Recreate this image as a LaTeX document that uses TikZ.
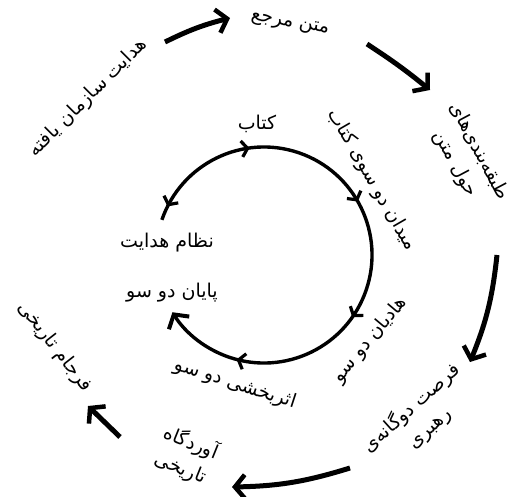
\documentclass[tikz,border=0pt]{standalone}
\usepackage{fontspec}
\newfontfamily\arabicfont[Script=Arabic]{DejaVu Sans}
\TeXXeTstate=1
\usetikzlibrary{arrows.meta,decorations.markings}
\newcommand{\fa}[1]{\beginR #1\endR}
\begin{document}
\begin{tikzpicture}[x=1pt,y=1pt,
  lbl/.style={font=\arabicfont\fontsize{19}{27}\selectfont, inner sep=1pt, align=center},
  bigtip/.style={-{Straight Barb[length=10pt,width=24pt,line width=4.5pt]}},
  outerarrow/.style={line width=5pt, bigtip},
  innerline/.style={line width=3.4pt}
]
\useasboundingbox (0,0) rectangle (519,-496);

% outer labels
\node[lbl, rotate=-10] (matn) at (290,-24) {\fa{متن مرجع}};
\node[lbl, rotate=-62] (tabaghe) at (467,-158) {\fa{طبقه‌بندی‌های}\\ \fa{حول متن}};
\node[lbl, rotate=42] (forsat) at (420,-418) {\fa{فرصت دوگانه‌ی}\\ \fa{رهبری}};
\node[lbl, rotate=-22] (avard) at (186,-455) {\fa{آوردگاه}\\ \fa{تاریخی}};
\node[lbl, rotate=-52] (farjam) at (55,-347) {\fa{فرجام تاریخی}};
\node[lbl, rotate=45] (hedayat) at (88,-98) {\fa{هدایت سازمان یافته}};

% outer arrows
\coordinate (a1s) at (165,-42);  \coordinate (a1e) at (230,-18);
\coordinate (a2s) at (367,-44);  \coordinate (a2e) at (430,-90);
\coordinate (a3s) at (497,-255); \coordinate (a3e) at (470,-362);
\coordinate (a4s) at (350,-468); \coordinate (a4e) at (232,-487);
\coordinate (a5s) at (120,-437); \coordinate (a5e) at (88,-406);
\draw[outerarrow] (a1s) to[bend left=6] (a1e);
\draw[outerarrow] (a2s) to[bend left=3] (a2e);
\draw[outerarrow] (a3s) to[bend left=8] (a3e);
\draw[outerarrow] (a4s) to[bend left=8] (a4e);
\draw[outerarrow] (a5s) -- (a5e);

% inner labels
\node[lbl] (ketab) at (257,-124) {\fa{کتاب}};
\node[lbl, rotate=-60] (meydan) at (372,-180) {\fa{میدان دو سوی کتاب}};
\node[lbl, rotate=50] (hadian) at (370,-340) {\fa{هادیان دو سو}};
\node[lbl, rotate=-18] (asar) at (235,-384) {\fa{اثربخشی دو سو}};
\node[lbl] (payan) at (172,-293) {\fa{پایان دو سو}};
\node[lbl] (nezam) at (167,-243) {\fa{نظام هدایت}};

% inner circle arc
\coordinate (c) at (264,-255);
\draw[innerline, -{Straight Barb[length=10pt,width=24pt,line width=4pt]},
  postaction={decorate, decoration={markings,
    mark=at position 0.025 with {\arrowreversed{Straight Barb[length=6pt,width=16pt,line width=3.2pt]}},
    mark=at position 0.205 with {\arrow{Straight Barb[length=6pt,width=16pt,line width=3.2pt]}},
    mark=at position 0.425 with {\arrow{Straight Barb[length=6pt,width=16pt,line width=3.2pt]}},
    mark=at position 0.635 with {\arrow{Straight Barb[length=6pt,width=16pt,line width=3.2pt]}},
    mark=at position 0.86 with {\arrow{Straight Barb[length=6pt,width=16pt,line width=3.2pt]}}}}]
  ([shift={(161:108)}]c) arc[start angle=161, end angle=-148, radius=108];
\end{tikzpicture}
\end{document}
